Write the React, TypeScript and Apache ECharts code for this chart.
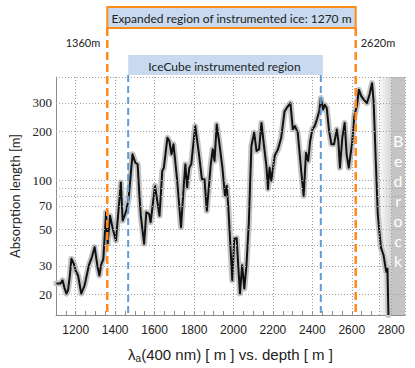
import React, { useEffect, useRef } from 'react';
import * as echarts from 'echarts';

// depth [m]
const depths = [
  1102, 1123, 1133, 1143, 1153, 1161, 1170, 1178, 1190, 1200, 1212, 1228, 1245, 1267, 1282, 1296,
  1305, 1312, 1320, 1329, 1340, 1354, 1362, 1374, 1388, 1404, 1429, 1438, 1450, 1458, 1468, 1488,
  1502, 1514, 1522, 1530, 1547, 1558, 1572, 1580, 1602, 1625, 1639, 1647, 1665, 1675, 1686, 1696,
  1714, 1734, 1748, 1756, 1765, 1776, 1786, 1806, 1823, 1840, 1853, 1865, 1885, 1895, 1904, 1915,
  1927, 1944, 1957, 1966, 1974, 1994, 2004, 2016, 2033, 2044, 2055, 2066, 2078, 2091, 2105, 2117,
  2130, 2142, 2155, 2167, 2175, 2183, 2192, 2209, 2226, 2242, 2259, 2270, 2289, 2301, 2312, 2326,
  2343, 2356, 2368, 2379, 2389, 2401, 2412, 2423, 2435, 2443, 2455, 2463, 2473, 2485, 2497, 2510,
  2524, 2532, 2540, 2552, 2564, 2574, 2585, 2602, 2613, 2627, 2636, 2648, 2661, 2677, 2690, 2703,
  2711, 2722, 2732, 2742, 2748, 2761, 2775, 2781, 2786,
];
// absorption length [m]
const absorption = [
  23.4, 23.4, 24.5, 22, 20.3, 21.3, 26, 33.2, 31, 28, 26.2, 20.3, 22.8, 30.3, 34, 39.1,
  33, 29, 26.2, 30.5, 33, 64, 41, 61, 50.6, 43, 97.5, 56.9, 62, 67, 77, 145,
  129, 126, 85, 61, 41, 64, 62.5, 55.6, 93, 61, 114.7, 120, 183, 175, 145, 167,
  102, 51.8, 93, 126, 91, 120, 126, 216, 152, 102, 102, 65.4, 126, 156, 132, 221,
  175, 120, 80.8, 93, 68.6, 24.5, 44, 44.4, 20.3, 30.3, 21.8, 30.3, 55.6, 163, 197, 152,
  156, 226, 163, 123, 89, 120, 100, 142, 156, 183, 266, 279, 299, 207, 216, 197,
  117, 80.8, 148, 132, 175, 207, 216, 237, 266, 321, 273, 292, 279, 202, 167, 167,
  206, 175, 120, 183, 226, 145, 120, 171, 248, 292, 361, 330, 314, 299, 337, 396,
  304, 130, 62, 46, 39, 35, 27.6, 28.8, 15,
];

const xLabelValues = [1200, 1400, 1600, 1800, 2000, 2200, 2400, 2600, 2800];
const xGridValues = [1200, 1400, 1600, 1800, 2000, 2200, 2400, 2600, 2740, 2800];
const yLabelValues = [20, 30, 50, 70, 100, 200, 300];
const yGridValues = [20, 30, 40, 50, 70, 80, 90, 100, 200, 300];
const expandedRange = [1360, 2620];
const iceCubeRange = [1466, 2443];
const bedrockFade = [2740, 2800];
const bedrockStart = 2800;

const X_MIN = 1100;
const X_MAX = 2870;
const Y_MIN = 15;
const Y_MAX = 432;
const X_TICK_STEP = 50;

const ORANGE = '#ff8a1c';
const BLUE = '#5f9bd6';
const BOX_FILL = '#c7daef';

export default function App() {
  const ref = useRef<HTMLDivElement>(null);

  useEffect(() => {
    const chart = echarts.init(ref.current!, null, { renderer: 'svg' });
    const points = depths.map((d, i) => [d, absorption[i]]);
    const xTicks: number[] = [];
    for (let t = X_MIN; t <= X_MAX; t += X_TICK_STEP) xTicks.push(t);

    const gridStyle = { type: [1, 2], color: '#a0a0a0', width: 1 };
    const gridLines = [
      ...xGridValues.map((v) => ({ xAxis: v })),
      ...yGridValues.map((v) => ({ yAxis: v })),
      { yAxis: Y_MAX },
      { xAxis: X_MAX },
    ];

    const option: any = {
      animation: false,
      grid: { left: 53, right: 10, top: 77, bottom: 52 },
      xAxis: {
        type: 'value',
        min: X_MIN,
        max: X_MAX,
        axisLine: { show: true, lineStyle: { color: '#8c8c8c', width: 1 } },
        axisTick: {
          show: true,
          inside: true,
          length: 4,
          customValues: xTicks,
          lineStyle: { color: '#8c8c8c' },
        },
        axisLabel: {
          customValues: xLabelValues,
          formatter: (v: number) => String(v),
          margin: 9,
          fontFamily: 'Liberation Sans',
          fontSize: 12,
          color: '#222',
        },
        splitLine: { show: false },
        name: '{l|λ}{s|a}{l|(400 nm) [ m ] vs. depth [ m ]}',
        nameLocation: 'middle',
        nameGap: 29,
        nameTextStyle: {
          rich: {
            l: { fontFamily: 'Liberation Sans', fontSize: 15, color: '#222', lineHeight: 20 },
            s: { fontFamily: 'Liberation Sans', fontSize: 10, color: '#222', lineHeight: 20, padding: [8, 0, 0, 0] },
          },
        },
      },
      yAxis: {
        type: 'log',
        logBase: 10,
        min: Y_MIN,
        max: Y_MAX,
        axisLine: { show: true, lineStyle: { color: '#8c8c8c', width: 1 } },
        axisTick: { show: false },
        axisLabel: {
          customValues: yLabelValues,
          formatter: (v: number) => String(v),
          margin: 4,
          fontFamily: 'Liberation Serif',
          fontSize: 13,
          color: '#222',
        },
        splitLine: { show: false },
        name: 'Absorption length [m]',
        nameLocation: 'middle',
        nameGap: 35,
        nameTextStyle: { fontFamily: 'Lato', fontSize: 13, color: '#222' },
      },
      series: [
        {
          type: 'line',
          data: points,
          symbol: 'none',
          lineStyle: { opacity: 0, width: 0 },
          silent: true,
          z: 1,
          markLine: {
            silent: true,
            symbol: 'none',
            label: { show: false },
            lineStyle: gridStyle,
            data: gridLines,
          },
          markArea: {
            silent: true,
            data: [
              [
                {
                  xAxis: bedrockFade[0],
                  itemStyle: {
                    color: new echarts.graphic.LinearGradient(0, 0, 1, 0, [
                      { offset: 0, color: '#fafafa' },
                      { offset: 1, color: '#d6d6d6' },
                    ]),
                  },
                },
                { xAxis: bedrockFade[1] },
              ],
              [
                { xAxis: bedrockStart, itemStyle: { color: '#c4c4c4' } },
                { xAxis: X_MAX },
              ],
            ],
          },
        },
        {
          type: 'line',
          data: points,
          symbol: 'none',
          silent: true,
          z: 2,
          lineStyle: { color: '#c4c4c4', width: 6, join: 'round', cap: 'round' },
        },
        {
          type: 'line',
          data: points,
          symbol: 'none',
          silent: true,
          z: 3,
          lineStyle: { color: '#111', width: 2, join: 'round' },
        },
      ],
    };
    chart.setOption(option);

    const xp = (d: number) => chart.convertToPixel({ xAxisIndex: 0 }, d) as number;
    const yp = (v: number) => chart.convertToPixel({ yAxisIndex: 0 }, v) as number;
    const bottom = yp(Y_MIN);
    const eL = xp(expandedRange[0]);
    const eR = xp(expandedRange[1]);
    const iL = xp(iceCubeRange[0]);
    const iR = xp(iceCubeRange[1]);
    const bx = (xp(bedrockStart) + xp(X_MAX)) / 2;

    const boxTop = 7;
    const boxBottom = 28;
    const iceTop = 55;
    const iceBottom = 75;

    const graphic: any[] = [
      {
        type: 'line',
        shape: { x1: eL, y1: boxBottom, x2: eL, y2: bottom },
        style: { stroke: ORANGE, lineWidth: 2.5, lineDash: [8, 4] },
        z: 100,
      },
      {
        type: 'line',
        shape: { x1: eR, y1: boxBottom, x2: eR, y2: bottom },
        style: { stroke: ORANGE, lineWidth: 2.5, lineDash: [8, 4] },
        z: 100,
      },
      {
        type: 'line',
        shape: { x1: iL, y1: iceBottom, x2: iL, y2: bottom },
        style: { stroke: BLUE, lineWidth: 2, lineDash: [7, 4] },
        z: 100,
      },
      {
        type: 'line',
        shape: { x1: iR, y1: iceBottom, x2: iR, y2: bottom },
        style: { stroke: BLUE, lineWidth: 2, lineDash: [7, 4] },
        z: 100,
      },
      {
        type: 'rect',
        shape: { x: eL, y: boxTop, width: eR - eL, height: boxBottom - boxTop },
        style: { fill: BOX_FILL, stroke: ORANGE, lineWidth: 2 },
        z: 100,
      },
      {
        type: 'text',
        x: (eL + eR) / 2,
        y: (boxTop + boxBottom) / 2 + 1,
        style: {
          text: 'Expanded region of instrumented ice: 1270 m',
          fontFamily: 'Lato',
          fontSize: 12,
          fill: '#222',
          align: 'center',
          verticalAlign: 'middle',
        },
        z: 101,
      },
      {
        type: 'text',
        x: eL - 7,
        y: 42,
        style: {
          text: `${expandedRange[0]}m`,
          fontFamily: 'Lato',
          fontSize: 11,
          fill: '#222',
          align: 'right',
          verticalAlign: 'middle',
        },
        z: 101,
      },
      {
        type: 'text',
        x: eR + 5,
        y: 42,
        style: {
          text: `${expandedRange[1]}m`,
          fontFamily: 'Lato',
          fontSize: 11,
          fill: '#222',
          align: 'left',
          verticalAlign: 'middle',
        },
        z: 101,
      },
      {
        type: 'rect',
        shape: { x: iL, y: iceTop, width: iR - iL + 2, height: iceBottom - iceTop },
        style: { fill: BOX_FILL },
        z: 100,
      },
      {
        type: 'text',
        x: (iL + iR) / 2,
        y: (iceTop + iceBottom) / 2 + 1,
        style: {
          text: 'IceCube instrumented region',
          fontFamily: 'Lato',
          fontSize: 12,
          fill: '#222',
          align: 'center',
          verticalAlign: 'middle',
        },
        z: 101,
      },
      {
        type: 'text',
        x: bx,
        y: 200,
        style: {
          text: 'B\ne\nd\nr\no\nc\nk',
          fontFamily: 'Lato',
          fontSize: 16,
          lineHeight: 20,
          fill: '#ffffff',
          align: 'center',
          verticalAlign: 'middle',
        },
        z: 101,
      },
    ];
    chart.setOption({ graphic });

    return () => chart.dispose();
  }, []);

  return (
    <div
      ref={ref}
      style={{ position: 'fixed', left: 0, top: 0, width: 415, height: 368, background: '#fff' }}
    />
  );
}
